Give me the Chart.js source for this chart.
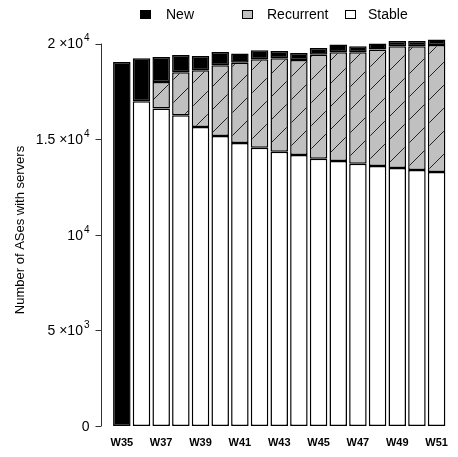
<!DOCTYPE html>
<html><head><meta charset="utf-8">
<script src="https://cdn.jsdelivr.net/npm/chart.js@4"></script>
<style>html,body{margin:0;padding:0;background:#fff;}#wrap{width:458px;height:457px;position:relative}</style>
</head><body><div id="wrap"><canvas id="c"></canvas></div>
<script>
const weeks = ['W35','W36','W37','W38','W39','W40','W41','W42','W43','W44','W45','W46','W47','W48','W49','W50','W51'];
const stable    = [null,16980,16610,16250,15640,15170,14800,14555,14345,14170,13980,13860,13720,13600,13490,13390,13280];
const recurrent = [null,null,1380,2250,2960,3690,4190,4625,4885,4970,5440,5690,5830,6090,6370,6470,6650];
const newAS     = [19040,2250,1310,900,750,700,490,470,380,360,350,400,310,310,280,280,280];
const yTicks = [0,5000,10000,15000,20000];
// [mantissa text, exponent text]
const yTickBase = ['0','5 ×10','10','1.5 ×10','2 ×10'];
const yTickExp  = ['','3','4','4','4'];
const legendLabels = ['New','Recurrent','Stable'];

const FONT='"Liberation Sans", Arial, sans-serif';
function hatch(){
  const s=23, c=document.createElement('canvas'); c.width=s; c.height=s;
  const g=c.getContext('2d');
  g.fillStyle='#c0c0c0'; g.fillRect(0,0,s,s);
  g.strokeStyle='#222'; g.lineWidth=1;
  g.beginPath(); g.moveTo(-1,s+1); g.lineTo(s+1,-1); g.stroke();
  return g.createPattern(c,'repeat');
}
const hatchFill = hatch();

const yAxisPlugin = {
  id:'yaxisline',
  afterDraw(chart){
    const ctx=chart.ctx, y=chart.scales.y, a=chart.chartArea;
    const x0=Math.round(a.left-11)+0.5;
    ctx.save(); ctx.strokeStyle='#333'; ctx.lineWidth=1;
    ctx.beginPath();
    ctx.moveTo(x0, y.getPixelForValue(yTicks[0])); ctx.lineTo(x0, y.getPixelForValue(yTicks[yTicks.length-1]));
    yTicks.forEach(v=>{const p=Math.round(y.getPixelForValue(v))+0.5; ctx.moveTo(x0-6,p); ctx.lineTo(x0,p);});
    ctx.stroke();
    // tick labels with superscript exponents
    ctx.fillStyle='#000'; ctx.textBaseline='middle'; ctx.textAlign='left';
    const right = x0-12;
    yTicks.forEach((v,i)=>{
      const p=y.getPixelForValue(v);
      ctx.font='10px '+FONT; const we=ctx.measureText(yTickExp[i]).width;
      ctx.font='14px '+FONT; const wb=ctx.measureText(yTickBase[i]).width;
      const xs=right-we-wb-(yTickExp[i]?1:0);
      ctx.fillText(yTickBase[i], xs, p+1);
      if(yTickExp[i]){ ctx.font='10px '+FONT; ctx.fillText(yTickExp[i], xs+wb+1, p-5); }
    });
    ctx.restore();
  }
};
const legendPlugin = {
  id:'customlegend',
  afterDraw(chart){
    const ctx=chart.ctx;
    const boxX=[140,242,345], textX=[166,267,368];
    const fills=['#000',hatchFill,'#fff'];
    ctx.save();
    ctx.font='14px '+FONT;
    ctx.textBaseline='alphabetic';
    legendLabels.forEach((t,i)=>{
      ctx.fillStyle=fills[i]; ctx.fillRect(boxX[i],10,10,9);
      ctx.strokeStyle='#000'; ctx.lineWidth=1; ctx.strokeRect(boxX[i]+0.5,10.5,10,8);
      ctx.fillStyle='#000'; ctx.fillText(t,textX[i],19);
    });
    ctx.restore();
  }
};

new Chart(document.getElementById('c'),{
  type:'bar',
  data:{labels:weeks,datasets:[
    {label:'Stable',data:stable,backgroundColor:'#fff',borderColor:'#000',borderWidth:1.5,borderSkipped:false},
    {label:'Recurrent',data:recurrent,backgroundColor:hatchFill,borderColor:'#000',borderWidth:1.5,borderSkipped:false},
    {label:'New',data:newAS,backgroundColor:'#000',borderColor:'#000',borderWidth:1.5,borderSkipped:false}
  ]},
  options:{
    responsive:true,maintainAspectRatio:false,animation:false,
    datasets:{bar:{barPercentage:0.89,categoryPercentage:1}},
    layout:{padding:{top:34,right:3,bottom:8,left:0}},
    plugins:{legend:{display:false},tooltip:{enabled:false}},
    scales:{
      x:{stacked:true,grid:{display:false,drawTicks:false},border:{display:false},
        afterFit:s=>{s.height=23;},
        ticks:{autoSkip:false,maxRotation:0,padding:10,color:'#000',
          font:{family:FONT,size:11,weight:'bold'},
          callback:(v,i)=> i%2===0 ? weeks[i] : ''}},
      y:{stacked:true,min:0,max:20500,grid:{display:false,drawTicks:false},border:{display:false},
        afterBuildTicks:s=>{s.ticks=yTicks.map(v=>({value:v}));},
        afterFit:s=>{s.width=112;},
        ticks:{display:false},
        title:{display:true,text:'Number of ASes with servers',color:'#000',
          font:{family:FONT,size:13},padding:{top:13,bottom:0}}}
    }
  },
  plugins:[yAxisPlugin,legendPlugin]
});
</script></body></html>
